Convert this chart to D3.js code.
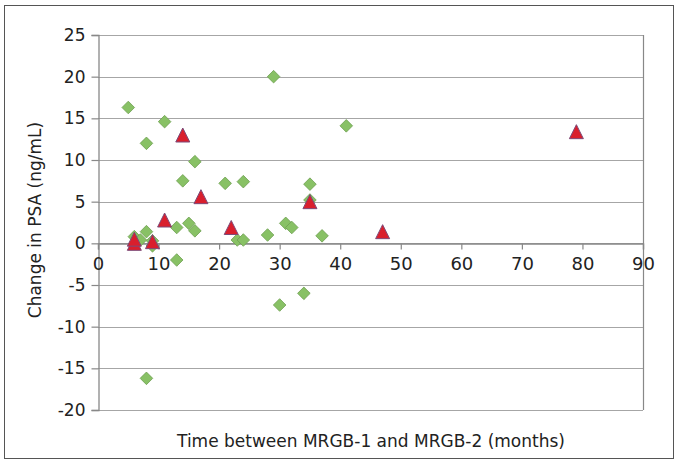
<!DOCTYPE html>
<html>
<head>
<meta charset="utf-8">
<script src="https://cdn.jsdelivr.net/npm/d3@7/dist/d3.min.js"></script>
<style>
  html, body { margin: 0; padding: 0; background: #fff; }
  svg { display: block; }
  text { font-family: "DejaVu Sans", sans-serif; fill: #222; }
</style>
</head>
<body>
<svg id="chart" width="678" height="464"></svg>
<script>
// ---- data ----
const diamondX = [5, 11, 8, 29, 16, 14, 21, 24, 13, 15, 16, 8, 6, 7, 9, 9, 23, 24, 28, 31, 32, 35, 35, 37, 41, 13, 30, 34, 8];
const diamondY = [16.3, 14.6, 12, 20, 9.8, 7.5, 7.2, 7.4, 1.9, 2.4, 1.5, 1.4, 0.8, 0.4, 0.3, -0.3, 0.4, 0.4, 1.0, 2.4, 1.9, 7.1, 5.2, 0.9, 14.1, -2, -7.4, -6, -16.2];
const triangleX = [14, 17, 11, 22, 6, 6, 9, 35, 47, 79];
const triangleY = [13, 5.6, 2.8, 1.9, 0, 0.5, 0.2, 5.0, 1.4, 13.4];
const xTicks = [0, 10, 20, 30, 40, 50, 60, 70, 80, 90];
const yTicks = [25, 20, 15, 10, 5, 0, -5, -10, -15, -20];
const xTitle = "Time between MRGB-1 and MRGB-2 (months)";
const yTitle = "Change in PSA (ng/mL)";

const svg = d3.select("#chart");
const pLeft = 98, pRight = 643, pTop = 35, pBottom = 410;
const x = d3.scaleLinear().domain([0, 90]).range([pLeft, pRight]);
const y = d3.scaleLinear().domain([-20, 25]).range([pBottom, pTop]);

// outer frame
svg.append("rect").attr("x", 4.5).attr("y", 5.5).attr("width", 669).attr("height", 453)
  .attr("fill", "none").attr("stroke", "#555").attr("stroke-width", 1);

// gridlines
svg.append("g").selectAll("line").data(yTicks).join("line")
  .attr("x1", pLeft).attr("x2", pRight)
  .attr("y1", d => Math.round(y(d)) + 0.5).attr("y2", d => Math.round(y(d)) + 0.5)
  .attr("stroke", "#a6a6a6").attr("stroke-width", 1.2);

// right border
svg.append("line").attr("x1", pRight + 0.5).attr("x2", pRight + 0.5).attr("y1", pTop).attr("y2", pBottom)
  .attr("stroke", "#888").attr("stroke-width", 1.2);

// y axis
const yAxis = d3.axisLeft(y).tickValues(yTicks).tickSize(7).tickPadding(6).tickFormat(d3.format("d"));
const gy = svg.append("g").attr("transform", `translate(${pLeft + 0.5},0)`).call(yAxis);
gy.select(".domain").attr("stroke", "#888").attr("stroke-width", 1.3);
gy.selectAll(".tick line").attr("stroke", "#888").attr("stroke-width", 1.2);
gy.selectAll(".tick text").attr("font-size", 17).attr("font-family", "DejaVu Sans").attr("fill", "#222")
  .text(d => d < 0 ? "-" + Math.abs(d) : d);

// x axis at y = 0
const xAxis = d3.axisBottom(x).tickValues(xTicks).tickSize(6).tickPadding(8).tickFormat(d3.format("d"));
const gx = svg.append("g").attr("transform", `translate(0,${Math.round(y(0)) + 0.5})`).call(xAxis);
gx.select(".domain").attr("stroke", "#888").attr("stroke-width", 1.3);
gx.selectAll(".tick line").attr("stroke", "#888").attr("stroke-width", 1.2);
gx.selectAll(".tick text").attr("font-size", 18).attr("font-family", "DejaVu Sans").attr("fill", "#222");

// diamonds
const ds = 6.3;
svg.append("g").selectAll("path").data(diamondX.map((d, i) => [d, diamondY[i]])).join("path")
  .attr("d", d => {
    const cx = x(d[0]), cy = y(d[1]);
    return `M${cx},${cy - ds}L${cx + ds},${cy}L${cx},${cy + ds}L${cx - ds},${cy}Z`;
  })
  .attr("fill", "#88c165").attr("stroke", "#6f9f52").attr("stroke-width", 0.8);

// triangles
const tw = 7, th = 7;
svg.append("g").selectAll("path").data(triangleX.map((d, i) => [d, triangleY[i]])).join("path")
  .attr("d", d => {
    const cx = x(d[0]), cy = y(d[1]);
    return `M${cx},${cy - th}L${cx + tw},${cy + th}L${cx - tw},${cy + th}Z`;
  })
  .attr("fill", "#d91f2d").attr("stroke", "#7d4a78").attr("stroke-width", 1);

// titles
svg.append("text").attr("x", 371).attr("y", 447).attr("text-anchor", "middle")
  .attr("font-size", 17).text(xTitle);
svg.append("text").attr("transform", "translate(41,220) rotate(-90)").attr("text-anchor", "middle")
  .attr("font-size", 17).text(yTitle);
</script>
</body>
</html>
